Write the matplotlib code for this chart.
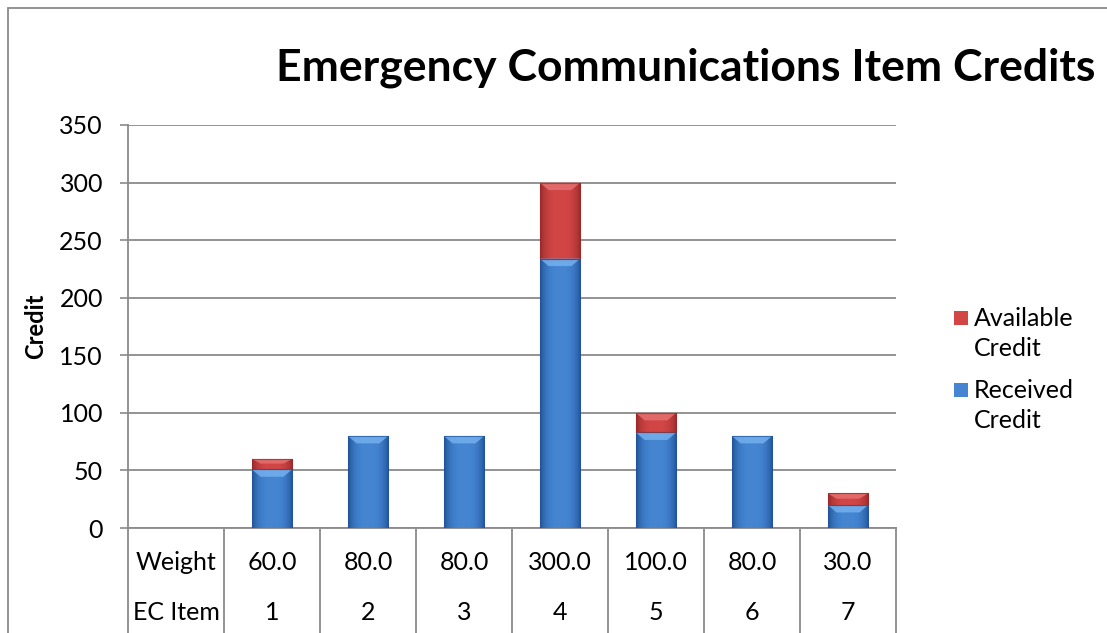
import numpy as np
import matplotlib
matplotlib.use("Agg")
import matplotlib.pyplot as plt
from matplotlib.patches import Rectangle, Polygon
from matplotlib.colors import to_rgb

plt.rcParams['font.family'] = ['Lato', 'DejaVu Sans']

# chart data
ec_items = [1, 2, 3, 4, 5, 6, 7]
weights = [60.0, 80.0, 80.0, 300.0, 100.0, 80.0, 30.0]
received = [51, 80, 80, 234, 83, 80, 20]
available = [w - r for w, r in zip(weights, received)]
yticks = [0, 50, 100, 150, 200, 250, 300, 350]

W, H = 1107, 633
fig = plt.figure(figsize=(W / 100, H / 100), dpi=100)
ax = fig.add_axes([128 / W, 1 - 528 / H, 768 / W, 403 / H])

grey = '#8a8a8a'
blue_mid, blue_edge, blue_top = '#4585d2', '#22549a', '#74b0ee'
red_mid, red_edge, red_top = '#d24646', '#9a2a2a', '#e67070'

# first column of the category axis holds the row headers of the table
x = np.arange(1, len(ec_items) + 1) + 0.5
bw = 0.42
b1 = ax.bar(x, received, width=bw, color=blue_mid, zorder=3)
b2 = ax.bar(x, available, width=bw, bottom=received, color=red_mid, zorder=3)


def shade(patches, mid, edge, top):
    # horizontal gradient plus a lighter bevel along the top of each segment
    m, e = np.array(to_rgb(mid)), np.array(to_rgb(edge))
    t = np.linspace(-1, 1, 64)
    f = np.abs(t) ** 3
    img = (m[None, :] * (1 - f[:, None]) + e[None, :] * f[:, None])[None, :, :]
    for p in patches:
        h = p.get_height()
        if h <= 0:
            continue
        x0, y0, w = p.get_x(), p.get_y(), p.get_width()
        im = ax.imshow(img, extent=[x0, x0 + w, y0, y0 + h], aspect='auto',
                       zorder=3.1, interpolation='bilinear')
        im.set_clip_path(p)
        bev = min(6.5, h * 0.45)
        ins = 0.09
        ax.add_patch(Polygon([(x0, y0 + h), (x0 + w, y0 + h),
                              (x0 + w - ins, y0 + h - bev), (x0 + ins, y0 + h - bev)],
                             closed=True, facecolor=top, edgecolor='none',
                             alpha=0.85, zorder=3.2))
        ax.add_patch(Rectangle((x0, y0), w, h, fill=False, edgecolor=edge,
                               linewidth=0.8, alpha=0.7, zorder=3.3))


shade(b1, blue_mid, blue_edge, blue_top)
shade(b2, red_mid, red_edge, red_top)

ax.set_xlim(0, len(ec_items) + 1)
ax.set_ylim(0, 350)
ax.set_yticks(yticks)
ax.set_xticks([])
ax.tick_params(axis='y', length=6, width=1.2, color=grey, pad=12, labelsize=18)
ax.grid(axis='y', color=grey, linewidth=1.3, zorder=0)
for s in ['top', 'right']:
    ax.spines[s].set_visible(False)
for s in ['left', 'bottom']:
    ax.spines[s].set_color(grey)
    ax.spines[s].set_linewidth(1.3)
ax.set_ylabel('Credit', fontsize=17, fontweight='bold', labelpad=9)

# data table under the axis
tr = ax.get_xaxis_transform()
y_bot = -(H - 528) / 403
for xb in np.arange(0, len(ec_items) + 2):
    ax.plot([xb, xb], [0, y_bot], color=grey, lw=1.3, transform=tr, clip_on=False)
row1, row2 = -35 / 403, -84 / 403
ax.text(0.5, row1, 'Weight', transform=tr, ha='center', va='center', fontsize=18)
ax.text(0.5, row2, 'EC Item', transform=tr, ha='center', va='center', fontsize=18)
for xi, wv, it in zip(x, weights, ec_items):
    ax.text(xi, row1, f'{wv:.1f}', transform=tr, ha='center', va='center', fontsize=18)
    ax.text(xi, row2, str(it), transform=tr, ha='center', va='center', fontsize=18)

fig.text(686 / W, 1 - 68 / H, 'Emergency Communications Item Credits',
         ha='center', va='center', fontsize=32, fontweight='bold')

# legend
for (lab, col, yc) in [('Available\nCredit', red_mid, 318), ('Received\nCredit', blue_mid, 390)]:
    fig.add_artist(Rectangle((954 / W, 1 - (yc + 7) / H), 14 / W, 14 / H,
                             transform=fig.transFigure, facecolor=col, edgecolor='none'))
    for k, line in enumerate(lab.split('\n')):
        fig.text(974 / W, 1 - (yc + 31 * k) / H, line, ha='left', va='center',
                 fontsize=18)

# outer chart border
fig.add_artist(Rectangle((8 / W, -0.5), 2.0, 1.5 - 8 / H, transform=fig.transFigure,
                         fill=False, edgecolor=grey, linewidth=1.3))

fig.savefig('out.png', dpi=100)
